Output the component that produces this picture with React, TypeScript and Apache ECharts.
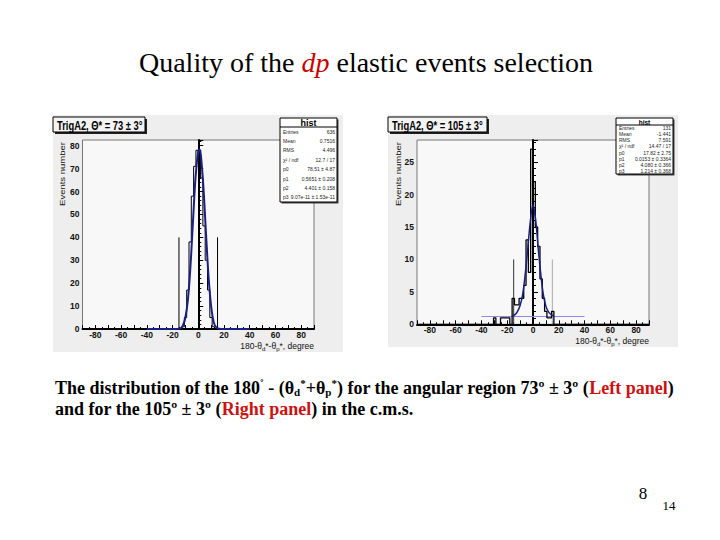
import React, { useEffect, useRef } from "react";
import * as echarts from "echarts";

// ---------- data ----------
const BIN_WIDTH = 1.8;
// Left panel (73 ± 3 deg)
const leftBinStart = [-12.6, -10.8, -9, -7.2, -5.4, -3.6, -1.8, 0, 1.8, 3.6, 5.4, 7.2, 9, 10.8];
const leftCounts = [1, 5, 17, 38, 58, 71, 78, 76, 66, 45, 30, 17, 5, 1];
const leftFitX = [-40, -18, -14, -12, -10, -8, -6, -4, -2, 0, 1, 2, 4, 6, 8, 10, 12, 14, 18, 40];
const leftFitY = [0, 0, 0.3, 1.5, 5, 13, 28, 48, 67, 77.5, 78.4, 76, 62, 42, 23, 10, 3, 0.8, 0, 0];
const leftCuts = [-15, 15];
const leftCutHeight = 40;

// Right panel (105 ± 3 deg)
const rightBinStart = [-30.6, -25.2, -23.4, -21.6, -19.8, -16.2, -14.4, -12.6, -10.8, -9, -7.2, -5.4, -3.6, -1.8, 0, 1.8, 3.6, 5.4, 7.2, 9, 10.8, 12.6, 14.4];
const rightCounts = [1, 1, 1, 1, 1, 4, 3, 3, 4, 4, 6, 13, 8, 27, 22, 15, 12, 7, 4, 2, 1, 1, 2];
const rightFitX = [-16, -14, -12, -10, -8, -6, -4, -2, 0, 2, 4, 6, 8, 10, 12, 14, 16];
const rightFitY = [1.3, 1.5, 2.0, 2.9, 4.6, 7.8, 11.8, 16.0, 18.4, 16.2, 11.8, 7.8, 4.6, 2.8, 1.9, 1.5, 1.3];
const rightBgX = [-40, 40];
const rightBgY = [1.2, 1.2];
const rightCuts = [-15, 15];
const rightCutHeight = 10;

const xTickLabels = [-80, -60, -40, -20, 0, 20, 40, 60, 80];

const leftStats = [
  ["Entries", "636"],
  ["Mean", "0.7516"],
  ["RMS", "4.496"],
  ["χ² / ndf", "12.7 / 17"],
  ["p0", "78.51 ± 4.87"],
  ["p1", "0.5651 ± 0.208"],
  ["p2", "4.401 ± 0.158"],
  ["p3", "9.07e-11 ± 1.53e-11"],
];
const rightStats = [
  ["Entries", "131"],
  ["Mean", "-1.441"],
  ["RMS", "7.591"],
  ["χ² / ndf", "14.47 / 17"],
  ["p0", "17.82 ± 2.75"],
  ["p1", "0.0153 ± 0.3364"],
  ["p2", "4.080 ± 0.366"],
  ["p3", "1.214 ± 0.368"],
];

// ---------- helpers ----------
function histPath(starts: number[], counts: number[]) {
  const pts: number[][] = [[-90, 0]];
  let x = -90;
  let level = 0;
  for (let i = 0; i < starts.length; i++) {
    const lo = starts[i];
    const hi = lo + BIN_WIDTH;
    const v = counts[i];
    if (lo - x > 1e-6) {
      pts.push([x, 0]);
      level = 0;
    }
    pts.push([lo, level]);
    pts.push([lo, v]);
    pts.push([hi, v]);
    x = hi;
    level = v;
  }
  pts.push([x, 0]);
  pts.push([90, 0]);
  return pts;
}
const zip = (a: number[], b: number[]) => a.map((v, i) => [v, b[i]]);

const SANS = "Liberation Sans, Arial, sans-serif";
const SERIF = "Liberation Serif, Times New Roman, serif";

function xAxis(gridIndex: number) {
  return {
    type: "value",
    gridIndex,
    min: -90,
    max: 90,
    interval: 10,
    axisLine: { lineStyle: { color: "#000", width: 2 } },
    axisTick: { inside: true, length: 4, lineStyle: { color: "#000" } },
    minorTick: { show: true, splitNumber: 2, length: 2, lineStyle: { color: "#000" } },
    splitLine: { show: false },
    axisLabel: {
      formatter: (v: number) => (xTickLabels.indexOf(v) >= 0 ? String(v) : ""),
      fontSize: 8.5,
      fontWeight: "bold",
      color: "#111",
      fontFamily: SANS,
      margin: 1,
    },
  };
}
function yAxis(gridIndex: number, max: number, interval: number) {
  return {
    type: "value",
    gridIndex,
    min: 0,
    max,
    interval,
    axisLine: { show: true, lineStyle: { color: "#000", width: 2 } },
    axisTick: { inside: true, length: 5, lineStyle: { color: "#000" } },
    minorTick: { show: true, splitNumber: 5, length: 3, lineStyle: { color: "#000" } },
    splitLine: { show: false },
    axisLabel: {
      formatter: (v: number) => (v % interval === 0 ? String(v) : ""),
      fontSize: 8.5,
      fontWeight: "bold",
      color: "#111",
      fontFamily: SANS,
      margin: 3,
    },
  };
}

function panelGraphics(
  px: number, py: number, pw: number, ph: number,
  title: string, titleW: number,
  stats: string[][], sx: number, sy: number, sw: number, sh: number,
  yTitleX: number, yTitleY: number,
  xTitleRight: number, xTitleY: number
) {
  const els: any[] = [];
  els.push({ type: "rect", z: -100, shape: { x: px, y: py, width: pw, height: ph }, style: { fill: "#eeeeee" } });
  // title box
  els.push({ type: "rect", z: 100, shape: { x: px + 2, y: py + 4, width: titleW, height: 15 }, style: { fill: "#222" } });
  els.push({ type: "rect", z: 101, shape: { x: px, y: py + 2, width: titleW, height: 15 }, style: { fill: "#f4f4f4", stroke: "#000", lineWidth: 1 } });
  els.push({
    type: "text", z: 102, x: px + 4, y: py + 10, scaleX: 0.72,
    style: { text: title, fontSize: 13, fontWeight: "bold", fontFamily: SANS, fill: "#000", verticalAlign: "middle" },
  });
  // stats box
  els.push({ type: "rect", z: 100, shape: { x: sx + 1.5, y: sy + 1.5, width: sw, height: sh }, style: { fill: "#444" } });
  els.push({ type: "rect", z: 101, shape: { x: sx, y: sy, width: sw, height: sh }, style: { fill: "#ffffff", stroke: "#000", lineWidth: 1 } });
  const head = sh > 70 ? 9 : 7;
  els.push({ type: "line", z: 102, shape: { x1: sx, y1: sy + head, x2: sx + sw, y2: sy + head }, style: { stroke: "#000", lineWidth: 1 } });
  els.push({
    type: "text", z: 102, x: sx + sw / 2, y: sy + head / 2 + 0.5,
    style: { text: "hist", fontSize: head > 8 ? 9 : 6.5, fontWeight: "bold", fontFamily: SANS, fill: "#000", align: "center", verticalAlign: "middle" },
  });
  const rowH = (sh - head) / stats.length;
  stats.forEach((r, i) => {
    const cy = sy + head + rowH * (i + 0.5);
    els.push({ type: "text", z: 102, x: sx + 3, y: cy, style: { text: r[0], fontSize: 5, fontFamily: SANS, fill: "#222", verticalAlign: "middle" } });
    els.push({ type: "text", z: 102, x: sx + sw - 2, y: cy, style: { text: r[1], fontSize: 5, fontFamily: SANS, fill: "#222", align: "right", verticalAlign: "middle" } });
  });
  // y title
  els.push({
    type: "text", z: 102, x: yTitleX, y: yTitleY, rotation: Math.PI / 2, scaleY: 0.8,
    style: { text: "Events number", fontSize: 9.5, fontFamily: SANS, fill: "#111", align: "center", verticalAlign: "middle" },
  });
  // x title
  els.push({
    type: "text", z: 102, x: xTitleRight, y: xTitleY,
    style: {
      text: "180-θ{s|d}*-θ{s|p}*, degree",
      fontSize: 8.5, fontFamily: SANS, fill: "#111", align: "right", verticalAlign: "middle",
      rich: { s: { fontSize: 6, fontFamily: SANS, fill: "#111", padding: [5, 0, 0, 0] } },
    },
  });
  return els;
}

export default function App() {
  const ref = useRef<HTMLDivElement>(null);
  useEffect(() => {
    if (!ref.current) return;
    const chart = echarts.init(ref.current, null, { renderer: "svg" });

    const graphics: any[] = [
      {
        type: "text", x: 366, y: 62,
        style: {
          text: "Quality of the {r|dp} elastic events selection",
          fontSize: 28, fontFamily: SERIF, fill: "#000", align: "center", verticalAlign: "middle",
          rich: { r: { fontSize: 28, fontFamily: SERIF, fontStyle: "italic", fill: "#cc0000" } },
        },
      },
      ...panelGraphics(53, 115, 290, 237, "TrigA2, Θ* = 73 ± 3°", 92, leftStats, 280, 118, 57, 84, 62, 174, 314, 346),
      ...panelGraphics(388, 115, 290, 232, "TrigA2, Θ* = 105 ± 3°", 99, rightStats, 616, 118, 57, 56, 398, 174, 649, 341),
      {
        type: "text", x: 55, y: 377,
        style: {
          text:
            "The distribution of the 180{sup|˚} - (θ{sub|d}{sup|*}+θ{sub|p}{sup|*}) for the angular region 73º ± 3º ({red|Left panel})\nand for the 105º ± 3º ({red|Right panel}) in the c.m.s.",
          fontSize: 18, fontWeight: "bold", fontFamily: SERIF, fill: "#000", lineHeight: 21,
          rich: {
            sup: { fontSize: 11, fontWeight: "bold", fontFamily: SERIF, fill: "#000", padding: [0, 0, 9, 0] },
            sub: { fontSize: 11, fontWeight: "bold", fontFamily: SERIF, fill: "#000", padding: [8, 0, 0, 0] },
            red: { fontSize: 18, fontWeight: "bold", fontFamily: SERIF, fill: "#cc1111" },
          },
        },
      },
      { type: "text", x: 643, y: 493, style: { text: "8", fontSize: 17, fontFamily: SERIF, fill: "#000", align: "center", verticalAlign: "middle" } },
      { type: "text", x: 669, y: 505, style: { text: "14", fontSize: 13, fontFamily: SERIF, fill: "#000", align: "center", verticalAlign: "middle" } },
    ];

    const cutSeries = (cuts: number[], h: number, idx: number, colors: string[]) =>
      cuts.map((c, i) => ({
        type: "line", xAxisIndex: idx, yAxisIndex: idx, showSymbol: false, silent: true,
        data: [[c, 0], [c, h]],
        lineStyle: { color: colors[i], width: 1 }, z: 3,
      }));

    chart.setOption({
      animation: false,
      backgroundColor: "#ffffff",
      grid: [
        { left: 82.5, top: 140, width: 231.5, height: 189, show: true, borderColor: "#777", borderWidth: 1, backgroundColor: "#f8f8f8" },
        { left: 417, top: 140, width: 232, height: 184.3, show: true, borderColor: "#777", borderWidth: 1, backgroundColor: "#f8f8f8" },
      ],
      xAxis: [xAxis(0), xAxis(1)],
      yAxis: [yAxis(0, 82.5, 10), yAxis(1, 28.4, 5)],
      graphic: graphics,
      series: [
        {
          type: "line", xAxisIndex: 0, yAxisIndex: 0, showSymbol: false,
          data: histPath(leftBinStart, leftCounts), lineStyle: { color: "#000", width: 1 }, z: 4,
        },
        {
          type: "line", xAxisIndex: 0, yAxisIndex: 0, showSymbol: false, smooth: 0.4,
          data: zip(leftFitX, leftFitY), lineStyle: { color: "#1a1f80", width: 2 }, z: 5,
        },
        ...cutSeries(leftCuts, leftCutHeight, 0, ["#000", "#000"]),
        {
          type: "line", xAxisIndex: 1, yAxisIndex: 1, showSymbol: false,
          data: zip(rightBgX, rightBgY), lineStyle: { color: "#8c8ce6", width: 1 }, z: 3,
        },
        {
          type: "line", xAxisIndex: 1, yAxisIndex: 1, showSymbol: false,
          data: histPath(rightBinStart, rightCounts), lineStyle: { color: "#000", width: 1.3 }, z: 4,
        },
        {
          type: "line", xAxisIndex: 1, yAxisIndex: 1, showSymbol: false, smooth: 0.4,
          data: zip(rightFitX, rightFitY), lineStyle: { color: "#1a1f80", width: 1.5 }, z: 5,
        },
        ...cutSeries(rightCuts, rightCutHeight, 1, ["#333", "#aaa"]),
      ],
    });
    return () => chart.dispose();
  }, []);
  return <div ref={ref} style={{ position: "absolute", left: 0, top: 0, width: 720, height: 540 }} />;
}
